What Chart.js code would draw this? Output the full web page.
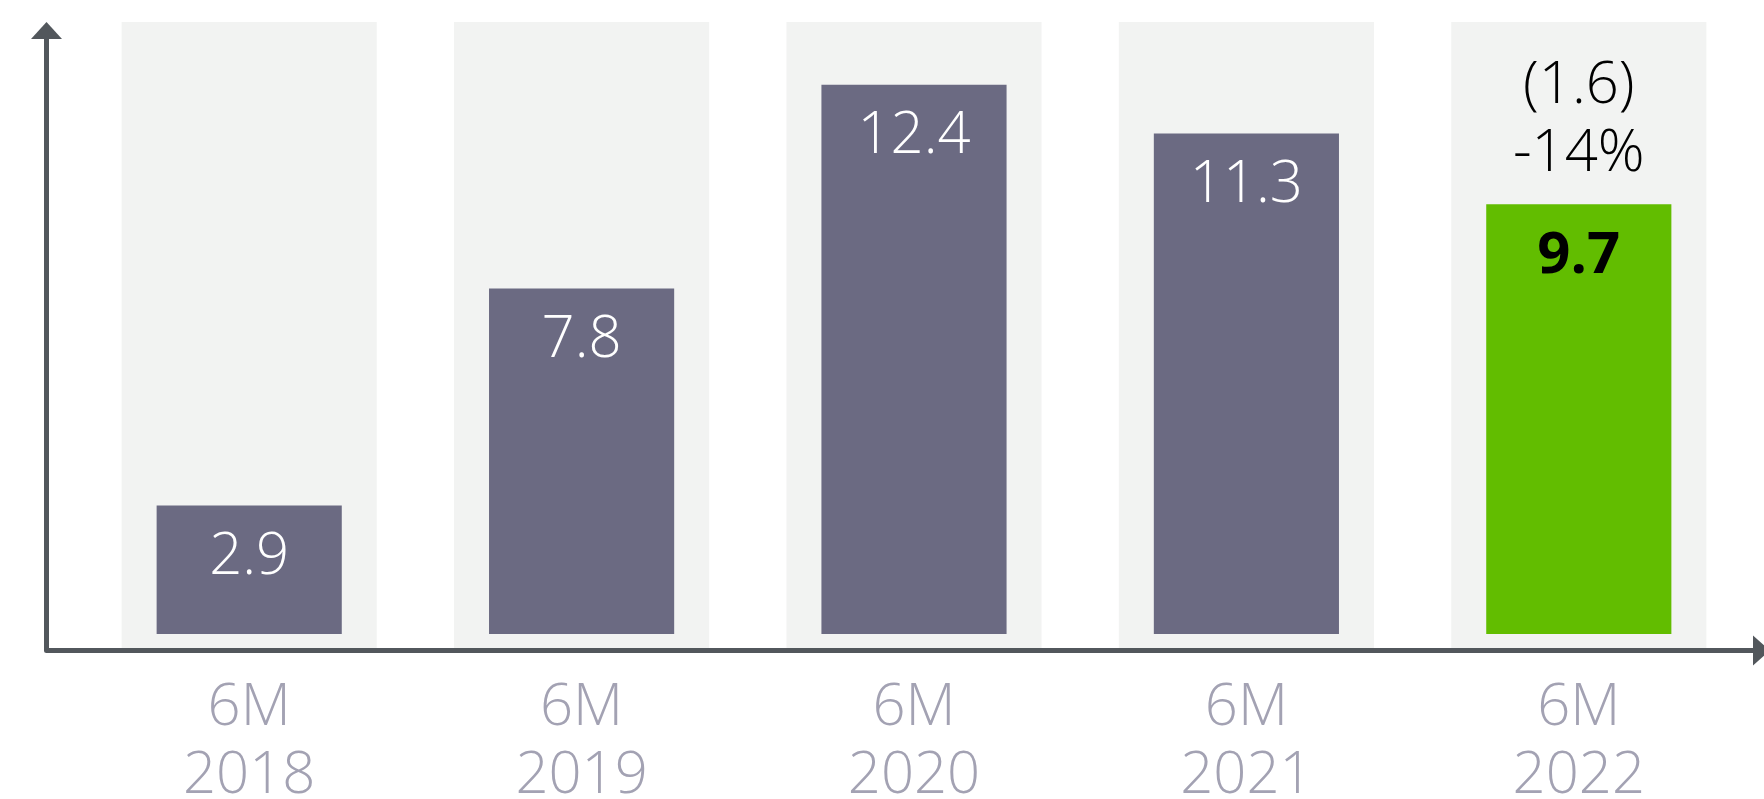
<!DOCTYPE html>
<html>
<head>
<meta charset="utf-8">
<script src="https://cdn.jsdelivr.net/npm/chart.js@4/dist/chart.umd.min.js"></script>
<style>
  html, body { margin: 0; padding: 0; background: #fff; }
  canvas { display: block; }
</style>
</head>
<body>
<canvas id="grafico" width="1764" height="799"></canvas>
<script>
// Dados
const periodos = [['6M', '2018'], ['6M', '2019'], ['6M', '2020'], ['6M', '2021'], ['6M', '2022']];
const valores = [2.9, 7.8, 12.4, 11.3, 9.7];
const corBarras = ['#6b6a82', '#6b6a82', '#6b6a82', '#6b6a82', '#62bd00'];
const corRotulos = ['#ffffff', '#ffffff', '#ffffff', '#ffffff', '#000000'];
const variacao = ['(1.6)', '-14%'];
const fundoMin = -0.316;
const fundoMax = 13.815;

const fonte = '"Open Sans", "DejaVu Sans", sans-serif';
const corEixo = '#52575c';

// Rótulos de valor e variação
const rotulosPlugin = {
  id: 'rotulos',
  afterDatasetsDraw(chart) {
    const c = chart.ctx;
    const meta = chart.getDatasetMeta(1);
    c.save();
    c.textAlign = 'center';
    c.textBaseline = 'middle';
    meta.data.forEach((bar, i) => {
      const ultimo = i === valores.length - 1;
      c.font = (ultimo ? '700 ' : '300 ') + '58px ' + fonte;
      c.fillStyle = corRotulos[i];
      c.fillText(valores[i].toFixed(1), bar.x, bar.y + 52);
      if (ultimo) {
        c.font = '300 58px ' + fonte;
        c.fillStyle = '#000';
        c.fillText(variacao[0], bar.x, bar.y - 118);
        c.fillText(variacao[1], bar.x, bar.y - 50);
      }
    });
    c.restore();
  }
};

// Eixos com setas
const eixosPlugin = {
  id: 'eixos',
  afterDraw(chart) {
    const c = chart.ctx;
    const area = chart.chartArea;
    const xEixo = 46.5;
    const yEixo = area.bottom + 2.5;
    c.save();
    c.strokeStyle = corEixo;
    c.fillStyle = corEixo;
    c.lineWidth = 5;
    c.lineJoin = 'round';
    c.beginPath();
    c.moveTo(xEixo, 36);
    c.lineTo(xEixo, yEixo);
    c.lineTo(1756, yEixo);
    c.stroke();
    // seta vertical
    c.beginPath();
    c.moveTo(xEixo, 22);
    c.lineTo(xEixo - 15.5, 39);
    c.lineTo(xEixo + 15.5, 39);
    c.closePath();
    c.fill();
    // seta horizontal
    c.beginPath();
    c.moveTo(1770, yEixo);
    c.lineTo(1753, yEixo - 15);
    c.lineTo(1753, yEixo + 15);
    c.closePath();
    c.fill();
    c.restore();
  }
};

const ctx = document.getElementById('grafico').getContext('2d');

new Chart(ctx, {
  type: 'bar',
  data: {
    labels: periodos,
    datasets: [
      {
        label: 'fundo',
        data: periodos.map(() => [fundoMin, fundoMax]),
        backgroundColor: '#f2f3f2',
        barPercentage: 0.7675,
        categoryPercentage: 1,
        grouped: false,
        order: 2
      },
      {
        label: 'valores',
        data: valores,
        backgroundColor: corBarras,
        barPercentage: 0.557,
        categoryPercentage: 1,
        grouped: false,
        order: 1
      }
    ]
  },
  options: {
    responsive: false,
    animation: false,
    layout: { padding: { top: 22, left: 83, right: 19, bottom: 0 } },
    plugins: {
      legend: { display: false },
      tooltip: { enabled: false }
    },
    scales: {
      x: {
        grid: { display: false },
        border: { display: false },
        ticks: {
          color: '#a3a2b3',
          padding: 18,
          font: { family: fonte, size: 58, weight: '300', lineHeight: 68 / 58 }
        },
        afterFit(scale) { scale.height = 151; }
      },
      y: {
        display: false,
        min: fundoMin,
        max: fundoMax
      }
    }
  },
  plugins: [rotulosPlugin, eixosPlugin]
});
</script>
</body>
</html>
